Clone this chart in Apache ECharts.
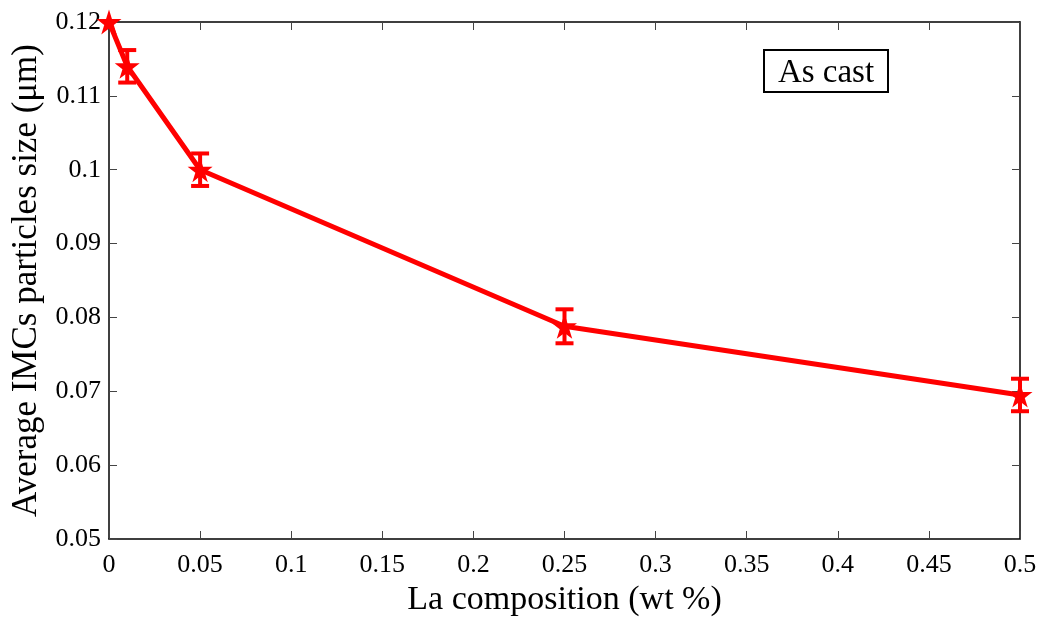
<!DOCTYPE html>
<html>
<head>
<meta charset="utf-8">
<script src="https://cdn.jsdelivr.net/npm/echarts@6/dist/echarts.min.js"></script>
<style>html,body{margin:0;padding:0;background:#fff}#c{width:1043px;height:617px}</style>
</head>
<body>
<div id="c"></div>
<script>
var xValues = [0, 0.01, 0.05, 0.25, 0.5];
var yValues = [0.12, 0.114, 0.1, 0.0788, 0.0695];
var yErrors = [0, 0.0022, 0.0022, 0.0023, 0.0022];
var xTicks = [0, 0.05, 0.1, 0.15, 0.2, 0.25, 0.3, 0.35, 0.4, 0.45, 0.5];
var yTicks = [0.05, 0.06, 0.07, 0.08, 0.09, 0.1, 0.11, 0.12];
var xTitle = 'La composition (wt %)';
var yTitle = 'Average IMCs particles size (μm)';
var boxText = 'As cast';

var FONT = 'Liberation Serif';
var RED = '#ff0000';
var star = 'path://M100,0 L122.45,69.1 L195.1,69.1 L136.3,111.8 L158.8,180.9 L100,138.2 L41.2,180.9 L63.7,111.8 L4.9,69.1 L77.55,69.1 Z';

function fmt(v) { return String(parseFloat(v.toFixed(4))); }

var lineData = xValues.map(function (x, i) { return [x, yValues[i]]; });
var errData = xValues.map(function (x, i) { return [x, yValues[i] - yErrors[i], yValues[i] + yErrors[i]]; });

var axisCommon = {
  axisLine: { show: true, onZero: false, lineStyle: { color: '#000', width: 1.5 } },
  axisTick: { show: true, inside: true, length: 8, lineStyle: { color: '#444', width: 1 } },
  splitLine: { show: false }
};

var chart = echarts.init(document.getElementById('c'), null, { renderer: 'canvas' });
chart.setOption({
  animation: false,
  backgroundColor: '#fff',
  grid: { left: 109, right: 23, top: 22, bottom: 78, containLabel: false, outerBoundsMode: 'none' },
  xAxis: [
    Object.assign({}, axisCommon, {
      type: 'value', min: 0, max: 0.5, interval: 0.05, position: 'bottom',
      name: xTitle, nameLocation: 'middle', nameGap: 43,
      nameTextStyle: { fontFamily: FONT, fontSize: 34, color: '#000' },
      axisLabel: { fontFamily: FONT, fontSize: 26, color: '#000', margin: 13,
        formatter: function (v) { return fmt(v); } }
    }),
    Object.assign({}, axisCommon, {
      type: 'value', min: 0, max: 0.5, interval: 0.05, position: 'top',
      axisLabel: { show: false }
    })
  ],
  yAxis: [
    Object.assign({}, axisCommon, {
      type: 'value', min: 0.05, max: 0.12, interval: 0.01, position: 'left',
      name: yTitle, nameLocation: 'middle', nameGap: 64, nameRotate: 90,
      nameTextStyle: { fontFamily: FONT, fontSize: 35, color: '#000' },
      axisLabel: { fontFamily: FONT, fontSize: 26, color: '#000', margin: 8,
        formatter: function (v) { return fmt(v); } }
    }),
    Object.assign({}, axisCommon, {
      type: 'value', min: 0.05, max: 0.12, interval: 0.01, position: 'right',
      axisLabel: { show: false }
    })
  ],
  series: [
    {
      type: 'custom',
      xAxisIndex: 0, yAxisIndex: 0,
      data: errData,
      clip: false,
      z: 3,
      renderItem: function (params, api) {
        var x = api.value(0);
        var lo = api.coord([x, api.value(1)]);
        var hi = api.coord([x, api.value(2)]);
        if (Math.abs(lo[1] - hi[1]) < 1) return { type: 'group', children: [] };
        var hw = 9;
        var st = { stroke: RED, lineWidth: 4 };
        return {
          type: 'group',
          children: [
            { type: 'line', shape: { x1: lo[0], y1: lo[1], x2: hi[0], y2: hi[1] }, style: st },
            { type: 'line', shape: { x1: lo[0] - hw, y1: lo[1], x2: lo[0] + hw, y2: lo[1] }, style: st },
            { type: 'line', shape: { x1: hi[0] - hw, y1: hi[1], x2: hi[0] + hw, y2: hi[1] }, style: st }
          ]
        };
      }
    },
    {
      type: 'line',
      xAxisIndex: 0, yAxisIndex: 0,
      data: lineData,
      clip: false,
      z: 4,
      lineStyle: { color: RED, width: 5 },
      itemStyle: { color: RED },
      symbol: star,
      symbolSize: 25,
      showSymbol: true
    }
  ],
  graphic: [
    {
      type: 'group', left: 763, top: 49,
      children: [
        { type: 'rect', shape: { x: 0, y: 0, width: 124, height: 42 },
          style: { fill: '#fff', stroke: '#000', lineWidth: 2 } },
        { type: 'text', x: 62, y: 23,
          style: { text: boxText, fontFamily: FONT, fontSize: 33, fill: '#000',
            textAlign: 'center', textVerticalAlign: 'middle' } }
      ]
    }
  ]
});
</script>
</body>
</html>
